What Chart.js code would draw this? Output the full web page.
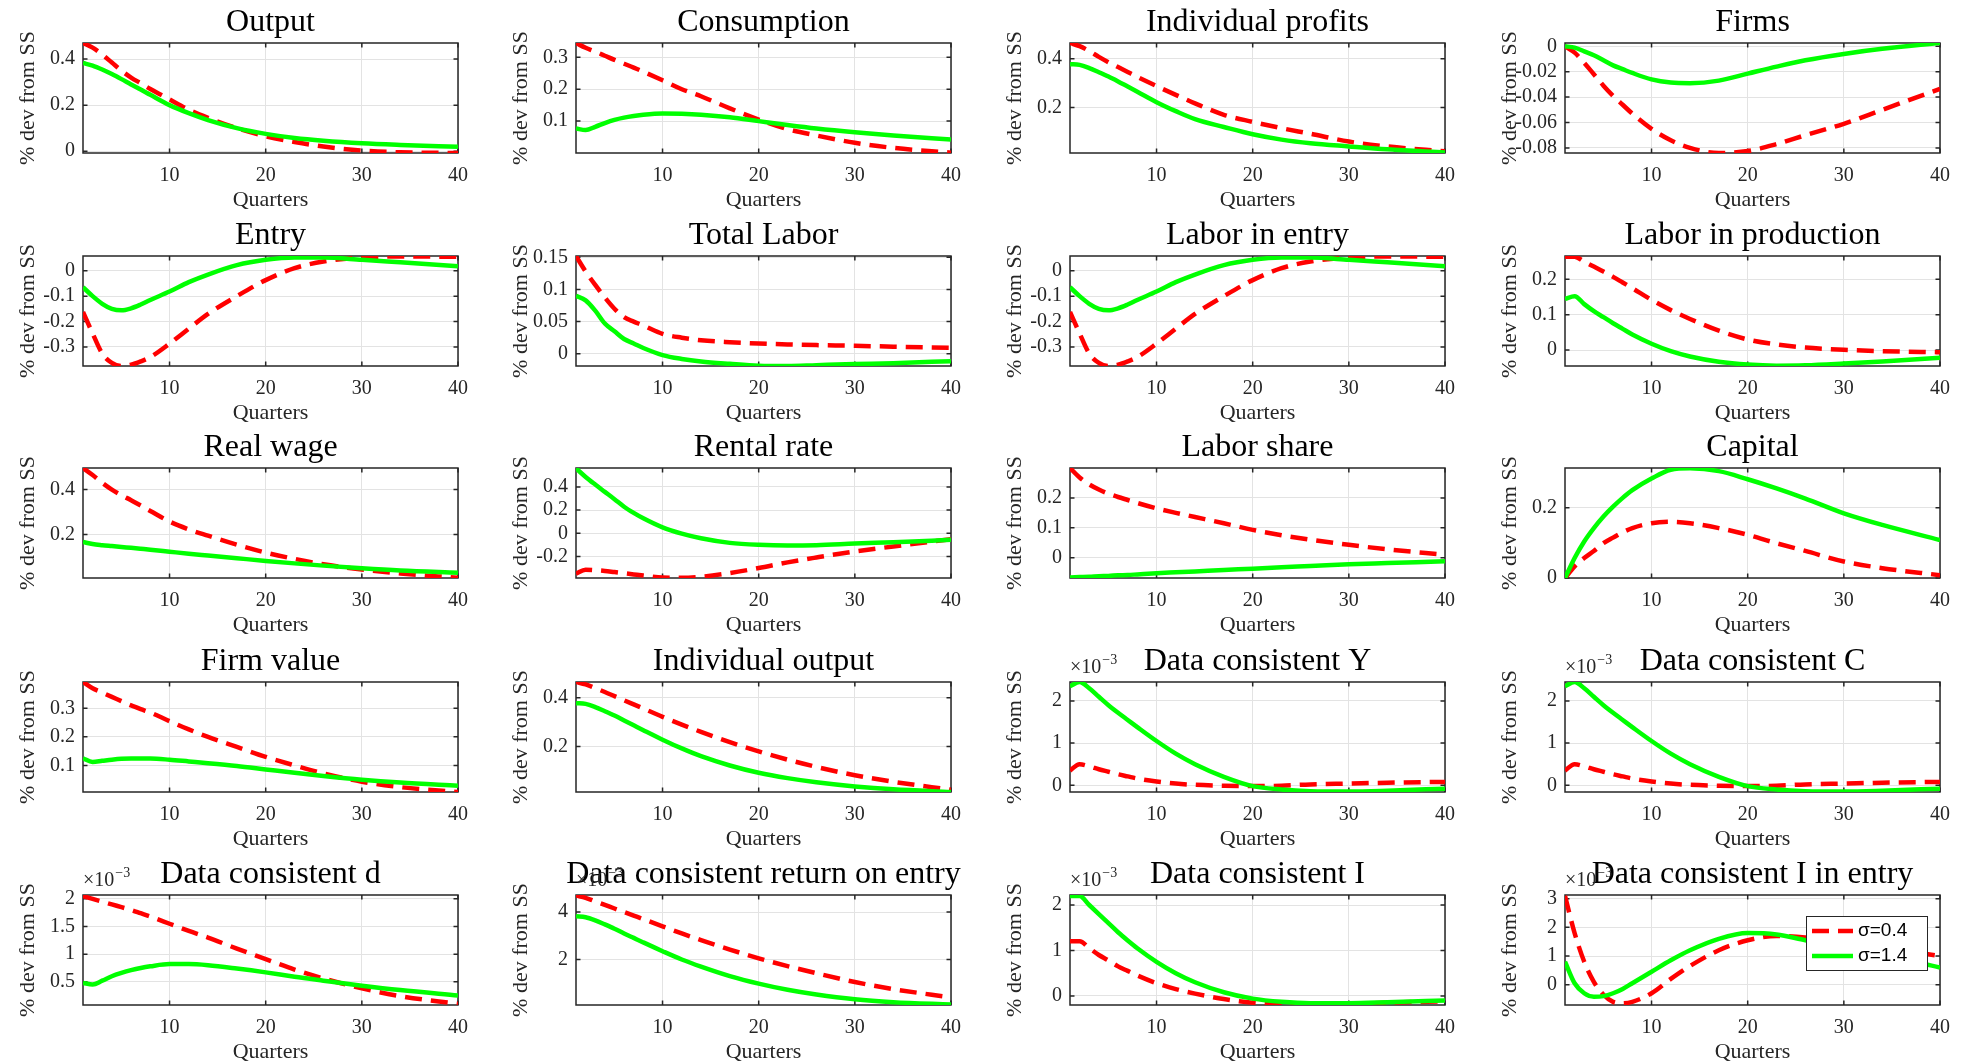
<!DOCTYPE html>
<html>
<head>
<meta charset="utf-8">
<script src="https://cdn.jsdelivr.net/npm/chart.js@4.4.0/dist/chart.umd.min.js"></script>
<style>
  html, body { margin: 0; padding: 0; background: #fff; overflow: hidden; }
  #grid { position: relative; width: 1975px; height: 1064px; }
  #grid canvas { position: absolute; }
</style>
</head>
<body>
<div id="grid"></div>
<script>
// Impulse responses, % deviation from steady state.
// "Low" = sigma 0.4 (red dashed), "High" = sigma 1.4 (green solid).
const quarters = [1, 2, 3, 4, 5, 6, 7, 8, 10, 12, 14, 17, 20, 23, 26, 30, 34, 40];
const xTicks = [10, 20, 30, 40];

const outputLow = [0.47, 0.45, 0.42, 0.385, 0.35, 0.32, 0.295, 0.27, 0.225, 0.18, 0.145, 0.1, 0.065, 0.04, 0.02, 0.003, -0.005, -0.008];
const outputHigh = [0.383, 0.372, 0.355, 0.335, 0.313, 0.29, 0.268, 0.245, 0.2, 0.165, 0.135, 0.1, 0.075, 0.057, 0.045, 0.034, 0.027, 0.019];

const consLow = [0.345, 0.33, 0.318, 0.305, 0.292, 0.28, 0.268, 0.255, 0.228, 0.2, 0.178, 0.14, 0.105, 0.075, 0.055, 0.032, 0.016, 0.001];
const consHigh = [0.077, 0.072, 0.082, 0.094, 0.104, 0.111, 0.116, 0.12, 0.124, 0.123, 0.12, 0.112, 0.1, 0.088, 0.077, 0.065, 0.055, 0.042];

const profitsLow = [0.465, 0.452, 0.432, 0.408, 0.386, 0.366, 0.346, 0.326, 0.288, 0.252, 0.217, 0.17, 0.141, 0.115, 0.092, 0.06, 0.04, 0.02];
const profitsHigh = [0.378, 0.375, 0.362, 0.345, 0.327, 0.307, 0.286, 0.265, 0.222, 0.185, 0.152, 0.12, 0.09, 0.068, 0.053, 0.04, 0.028, 0.015];

const firmsLow = [0, -0.005, -0.013, -0.022, -0.031, -0.039, -0.046, -0.053, -0.065, -0.074, -0.08, -0.084, -0.0825, -0.077, -0.07, -0.061, -0.05, -0.0335];
const firmsHigh = [0, -0.001, -0.004, -0.007, -0.011, -0.015, -0.018, -0.021, -0.026, -0.0285, -0.029, -0.027, -0.0215, -0.016, -0.011, -0.006, -0.002, 0.0026];

const entryLow = [-0.162, -0.247, -0.326, -0.363, -0.375, -0.37, -0.357, -0.34, -0.287, -0.228, -0.17, -0.1, -0.037, 0.01, 0.036, 0.052, 0.056, 0.055];
const entryHigh = [-0.065, -0.1, -0.13, -0.15, -0.156, -0.148, -0.133, -0.115, -0.082, -0.045, -0.015, 0.022, 0.043, 0.052, 0.052, 0.043, 0.033, 0.018];

const laborLow = [0.152, 0.128, 0.107, 0.0875, 0.07, 0.057, 0.05, 0.044, 0.031, 0.025, 0.021, 0.018, 0.016, 0.0146, 0.0135, 0.0125, 0.011, 0.0094];
const laborHigh = [0.09, 0.083, 0.067, 0.047, 0.035, 0.023, 0.016, 0.009, -0.002, -0.008, -0.012, -0.0156, -0.0185, -0.019, -0.0177, -0.016, -0.0146, -0.0115];

const laborEntryLow = [-0.162, -0.247, -0.326, -0.363, -0.375, -0.37, -0.357, -0.34, -0.287, -0.228, -0.17, -0.1, -0.037, 0.01, 0.036, 0.052, 0.056, 0.055];
const laborEntryHigh = [-0.065, -0.1, -0.13, -0.15, -0.156, -0.148, -0.133, -0.115, -0.082, -0.045, -0.015, 0.022, 0.043, 0.052, 0.052, 0.043, 0.033, 0.018];

const laborProdLow = [0.264, 0.264, 0.25, 0.236, 0.222, 0.207, 0.191, 0.175, 0.142, 0.113, 0.088, 0.055, 0.03, 0.016, 0.007, 0.001, -0.003, -0.006];
const laborProdHigh = [0.145, 0.152, 0.13, 0.11, 0.093, 0.076, 0.06, 0.044, 0.018, -0.003, -0.018, -0.033, -0.041, -0.044, -0.043, -0.038, -0.032, -0.022];

const wageLow = [0.496, 0.465, 0.43, 0.4, 0.375, 0.353, 0.329, 0.305, 0.258, 0.223, 0.195, 0.155, 0.12, 0.092, 0.068, 0.045, 0.027, 0.008];
const wageHigh = [0.167, 0.158, 0.153, 0.149, 0.145, 0.141, 0.137, 0.133, 0.124, 0.115, 0.107, 0.095, 0.083, 0.072, 0.062, 0.05, 0.04, 0.03];

const rentalLow = [-0.349, -0.314, -0.318, -0.325, -0.335, -0.345, -0.355, -0.365, -0.382, -0.384, -0.375, -0.343, -0.3, -0.251, -0.209, -0.157, -0.114, -0.051];
const rentalHigh = [0.56, 0.486, 0.42, 0.357, 0.294, 0.229, 0.176, 0.129, 0.051, -0.003, -0.043, -0.083, -0.1, -0.106, -0.103, -0.089, -0.077, -0.057];

const shareLow = [0.3, 0.268, 0.245, 0.228, 0.214, 0.203, 0.193, 0.183, 0.165, 0.15, 0.136, 0.115, 0.093, 0.075, 0.06, 0.043, 0.028, 0.01];
const shareHigh = [-0.066, -0.065, -0.064, -0.062, -0.061, -0.059, -0.058, -0.056, -0.052, -0.049, -0.046, -0.041, -0.037, -0.032, -0.028, -0.022, -0.018, -0.012];

const capitalLow = [0, 0.033, 0.057, 0.077, 0.099, 0.115, 0.13, 0.142, 0.156, 0.16, 0.156, 0.142, 0.123, 0.099, 0.077, 0.047, 0.028, 0.008];
const capitalHigh = [0, 0.057, 0.104, 0.142, 0.175, 0.203, 0.228, 0.25, 0.283, 0.308, 0.312, 0.304, 0.281, 0.255, 0.226, 0.184, 0.151, 0.108];

const valueLow = [0.392, 0.37, 0.355, 0.34, 0.325, 0.31, 0.297, 0.285, 0.255, 0.226, 0.2, 0.165, 0.13, 0.1, 0.072, 0.043, 0.024, 0.007];
const valueHigh = [0.125, 0.112, 0.116, 0.12, 0.123, 0.124, 0.124, 0.124, 0.12, 0.114, 0.108, 0.098, 0.086, 0.074, 0.063, 0.05, 0.04, 0.029];

const indOutputLow = [0.465, 0.455, 0.44, 0.424, 0.407, 0.39, 0.373, 0.356, 0.322, 0.29, 0.26, 0.218, 0.18, 0.146, 0.116, 0.082, 0.055, 0.022];
const indOutputHigh = [0.378, 0.375, 0.362, 0.345, 0.327, 0.307, 0.287, 0.267, 0.228, 0.192, 0.16, 0.122, 0.092, 0.07, 0.053, 0.036, 0.024, 0.013];

// the "data consistent" series are in units of 1e-3
const dcYLow = [0.35, 0.5, 0.45, 0.38, 0.32, 0.26, 0.21, 0.16, 0.09, 0.04, 0.01, -0.01, -0.02, -0.01, 0.02, 0.04, 0.06, 0.08];
const dcYHigh = [2.35, 2.45, 2.3, 2.1, 1.9, 1.72, 1.55, 1.38, 1.05, 0.75, 0.5, 0.2, -0.02, -0.1, -0.14, -0.15, -0.13, -0.08];

const dcCLow = [0.35, 0.5, 0.45, 0.38, 0.32, 0.26, 0.21, 0.16, 0.09, 0.04, 0.01, -0.01, -0.02, -0.01, 0.02, 0.04, 0.06, 0.08];
const dcCHigh = [2.35, 2.45, 2.3, 2.1, 1.9, 1.72, 1.55, 1.38, 1.05, 0.75, 0.5, 0.2, -0.02, -0.1, -0.14, -0.15, -0.13, -0.08];

const dcDLow = [2.05, 2.0, 1.95, 1.9, 1.85, 1.8, 1.74, 1.68, 1.55, 1.42, 1.3, 1.1, 0.91, 0.72, 0.56, 0.38, 0.24, 0.1];
const dcDHigh = [0.48, 0.45, 0.52, 0.6, 0.66, 0.71, 0.75, 0.78, 0.82, 0.82, 0.8, 0.74, 0.67, 0.59, 0.52, 0.43, 0.35, 0.25];

const dcReturnLow = [4.7, 4.6, 4.45, 4.3, 4.15, 4.0, 3.85, 3.7, 3.4, 3.1, 2.82, 2.42, 2.05, 1.72, 1.42, 1.05, 0.75, 0.4];
const dcReturnHigh = [3.82, 3.78, 3.65, 3.48, 3.3, 3.1, 2.91, 2.72, 2.35, 2.0, 1.7, 1.3, 0.98, 0.72, 0.52, 0.32, 0.2, 0.1];

const dcILow = [1.2, 1.2, 1.05, 0.9, 0.78, 0.65, 0.55, 0.45, 0.28, 0.15, 0.05, -0.07, -0.15, -0.19, -0.2, -0.18, -0.15, -0.12];
const dcIHigh = [2.2, 2.2, 2.0, 1.8, 1.6, 1.4, 1.22, 1.05, 0.75, 0.5, 0.3, 0.08, -0.06, -0.13, -0.16, -0.16, -0.14, -0.1];

const dcIEntryLow = [3.1, 1.8, 0.8, 0.1, -0.35, -0.6, -0.65, -0.6, -0.3, 0.2, 0.65, 1.2, 1.55, 1.7, 1.65, 1.5, 1.3, 1.0];
const dcIEntryHigh = [0.8, 0.05, -0.3, -0.42, -0.4, -0.3, -0.15, 0.05, 0.45, 0.85, 1.2, 1.6, 1.8, 1.75, 1.55, 1.3, 1.05, 0.6];

const panels = [
  { title: 'Output', low: outputLow, high: outputHigh, min: -0.008, max: 0.47, ticks: [0, 0.2, 0.4] },
  { title: 'Consumption', low: consLow, high: consHigh, min: 0, max: 0.345, ticks: [0.1, 0.2, 0.3] },
  { title: 'Individual profits', low: profitsLow, high: profitsHigh, min: 0.013, max: 0.465, ticks: [0.2, 0.4] },
  { title: 'Firms', low: firmsLow, high: firmsHigh, min: -0.084, max: 0.0026, ticks: [-0.08, -0.06, -0.04, -0.02, 0] },
  { title: 'Entry', low: entryLow, high: entryHigh, min: -0.375, max: 0.058, ticks: [-0.3, -0.2, -0.1, 0] },
  { title: 'Total Labor', low: laborLow, high: laborHigh, min: -0.019, max: 0.152, ticks: [0, 0.05, 0.1, 0.15] },
  { title: 'Labor in entry', low: laborEntryLow, high: laborEntryHigh, min: -0.375, max: 0.058, ticks: [-0.3, -0.2, -0.1, 0] },
  { title: 'Labor in production', low: laborProdLow, high: laborProdHigh, min: -0.045, max: 0.266, ticks: [0, 0.1, 0.2] },
  { title: 'Real wage', low: wageLow, high: wageHigh, min: 0.007, max: 0.496, ticks: [0.2, 0.4] },
  { title: 'Rental rate', low: rentalLow, high: rentalHigh, min: -0.386, max: 0.563, ticks: [-0.2, 0, 0.2, 0.4] },
  { title: 'Labor share', low: shareLow, high: shareHigh, min: -0.068, max: 0.3, ticks: [0, 0.1, 0.2] },
  { title: 'Capital', low: capitalLow, high: capitalHigh, min: 0, max: 0.313, ticks: [0, 0.2] },
  { title: 'Firm value', low: valueLow, high: valueHigh, min: 0.007, max: 0.392, ticks: [0.1, 0.2, 0.3] },
  { title: 'Individual output', low: indOutputLow, high: indOutputHigh, min: 0.013, max: 0.465, ticks: [0.2, 0.4] },
  { title: 'Data consistent Y', low: dcYLow, high: dcYHigh, min: -0.16, max: 2.45, ticks: [0, 1, 2], exp: true },
  { title: 'Data consistent C', low: dcCLow, high: dcCHigh, min: -0.16, max: 2.45, ticks: [0, 1, 2], exp: true },
  { title: 'Data consistent d', low: dcDLow, high: dcDHigh, min: 0.08, max: 2.07, ticks: [0.5, 1, 1.5, 2], exp: true },
  { title: 'Data consistent return on entry', low: dcReturnLow, high: dcReturnHigh, min: 0.08, max: 4.72, ticks: [2, 4], exp: true },
  { title: 'Data consistent I', low: dcILow, high: dcIHigh, min: -0.2, max: 2.22, ticks: [0, 1, 2], exp: true },
  { title: 'Data consistent I in entry', low: dcIEntryLow, high: dcIEntryHigh, min: -0.71, max: 3.13, ticks: [0, 1, 2, 3], exp: true, legend: true }
];

const SERIF = '"Liberation Serif", "Times New Roman", serif';
const AXIS_COLOR = '#262626';
const GRID_COLOR = '#e3e3e3';

const colLeft = [0, 493, 987, 1482];
const rowTop = [0, 213, 425, 639, 852];
const CANVAS_W = 490, CANVAS_H = 213;
const PLOT_W = 375;
const TITLE_H = 43;

function fmtTick(v) {
    if (Math.abs(v) < 1e-12) return '0';
    return String(+v.toFixed(4));
}

// panel title, centred over the plot area rather than the whole canvas
const panelTitle = {
    id: 'panelTitle',
    afterDraw(chart, args, opts) {
        const { ctx, chartArea: a } = chart;
        ctx.save();
        ctx.fillStyle = '#000';
        ctx.font = '32px ' + SERIF;
        ctx.textAlign = 'center';
        ctx.textBaseline = 'middle';
        ctx.fillText(opts.text, (a.left + a.right) / 2, 22.5);
        ctx.restore();
    }
};

// box around the plot area plus inward tick marks on all four sides
const axesBox = {
    id: 'axesBox',
    beforeDatasetsDraw(chart) {
        const { ctx, chartArea: a, scales: { x, y } } = chart;
        const len = 4.5;
        ctx.save();
        ctx.strokeStyle = AXIS_COLOR;
        ctx.lineWidth = 1.5;
        ctx.strokeRect(a.left, a.top, a.width, a.height);
        ctx.beginPath();
        x.ticks.forEach(t => {
            const px = x.getPixelForValue(t.value);
            ctx.moveTo(px, a.bottom); ctx.lineTo(px, a.bottom - len);
            ctx.moveTo(px, a.top); ctx.lineTo(px, a.top + len);
        });
        y.ticks.forEach(t => {
            const py = y.getPixelForValue(t.value);
            ctx.moveTo(a.left, py); ctx.lineTo(a.left + len, py);
            ctx.moveTo(a.right, py); ctx.lineTo(a.right - len, py);
        });
        ctx.stroke();
        ctx.restore();
    }
};

// x10^-3 multiplier above the y axis
const expLabel = {
    id: 'expLabel',
    afterDraw(chart, args, opts) {
        if (!opts.show) return;
        const { ctx, chartArea: a } = chart;
        ctx.save();
        ctx.fillStyle = AXIS_COLOR;
        ctx.textBaseline = 'alphabetic';
        ctx.textAlign = 'left';
        ctx.font = '20px ' + SERIF;
        const base = '\u00d710';
        ctx.fillText(base, a.left, a.top - 9);
        const w = ctx.measureText(base).width;
        ctx.font = '14px ' + SERIF;
        ctx.fillText('\u22123', a.left + w + 1, a.top - 18);
        ctx.restore();
    }
};

// legend box inside the last panel
const legendBox = {
    id: 'legendBox',
    afterDraw(chart, args, opts) {
        if (!opts.show) return;
        const { ctx, chartArea: a } = chart;
        const w = 121, h = 54;
        const left = a.right - 134, top = a.top + 21;
        ctx.save();
        ctx.fillStyle = '#fff';
        ctx.fillRect(left, top, w, h);
        ctx.strokeStyle = AXIS_COLOR;
        ctx.lineWidth = 1;
        ctx.strokeRect(left + 0.5, top + 0.5, w, h);
        chart.data.datasets.forEach((ds, i) => {
            const cy = top + 15 + i * 25;
            ctx.strokeStyle = ds.borderColor;
            ctx.lineWidth = ds.borderWidth;
            ctx.setLineDash(ds.borderDash || []);
            ctx.beginPath();
            ctx.moveTo(left + 6, cy);
            ctx.lineTo(left + 47, cy);
            ctx.stroke();
            ctx.setLineDash([]);
            ctx.fillStyle = '#000';
            ctx.font = '19px "Liberation Sans", Arial, sans-serif';
            ctx.textBaseline = 'middle';
            ctx.fillText(ds.label, left + 52, cy);
        });
        ctx.restore();
    }
};

function makeChart(canvas, p) {
    const axisFont = { family: SERIF, size: 22 };
    const tickFont = { family: SERIF, size: 20 };
    return new Chart(canvas, {
        type: 'line',
        data: {
            datasets: [
                {
                    label: '\u03c3=0.4',
                    data: quarters.map((q, i) => ({ x: q, y: p.low[i] })),
                    borderColor: '#ff0000',
                    borderDash: [17, 9],
                    borderWidth: 4.5,
                    order: 1
                },
                {
                    label: '\u03c3=1.4',
                    data: quarters.map((q, i) => ({ x: q, y: p.high[i] })),
                    borderColor: '#00ff00',
                    borderWidth: 4.5,
                    order: 0
                }
            ]
        },
        options: {
            responsive: false,
            animation: false,
            devicePixelRatio: 1,
            layout: { padding: { left: 0, right: CANVAS_W - 83 - PLOT_W, top: TITLE_H, bottom: 0 } },
            elements: {
                point: { radius: 0 },
                line: { cubicInterpolationMode: 'monotone', borderCapStyle: 'butt', fill: false }
            },
            plugins: {
                legend: { display: false },
                tooltip: { enabled: false },
                title: { display: false },
                panelTitle: { text: p.title },
                expLabel: { show: !!p.exp },
                legendBox: { show: !!p.legend }
            },
            scales: {
                x: {
                    type: 'linear',
                    min: 1,
                    max: 40,
                    afterBuildTicks: s => { s.ticks = xTicks.map(v => ({ value: v })); },
                    afterFit: s => { s.height = 60; },
                    grid: { color: GRID_COLOR, lineWidth: 1, drawTicks: false },
                    border: { display: false },
                    ticks: { color: AXIS_COLOR, font: tickFont, padding: 11, maxRotation: 0, autoSkip: false },
                    title: { display: true, text: 'Quarters', color: AXIS_COLOR, font: axisFont, padding: 0 }
                },
                y: {
                    type: 'linear',
                    min: p.min,
                    max: p.max,
                    afterBuildTicks: s => { s.ticks = p.ticks.map(v => ({ value: v })); },
                    afterFit: s => { s.width = 83; },
                    grid: { color: GRID_COLOR, lineWidth: 1, drawTicks: false },
                    border: { display: false },
                    ticks: { color: AXIS_COLOR, font: tickFont, padding: 8, callback: v => fmtTick(v) },
                    title: { display: true, text: '% dev from SS', color: AXIS_COLOR, font: axisFont, padding: { top: 15, bottom: 0 } }
                }
            }
        },
        plugins: [axesBox, panelTitle, expLabel, legendBox]
    });
}

const grid = document.getElementById('grid');
panels.forEach((p, i) => {
    const canvas = document.createElement('canvas');
    canvas.width = CANVAS_W;
    canvas.height = CANVAS_H;
    canvas.style.left = colLeft[i % 4] + 'px';
    canvas.style.top = rowTop[Math.floor(i / 4)] + 'px';
    grid.appendChild(canvas);
    makeChart(canvas, p);
});
</script>
</body>
</html>
